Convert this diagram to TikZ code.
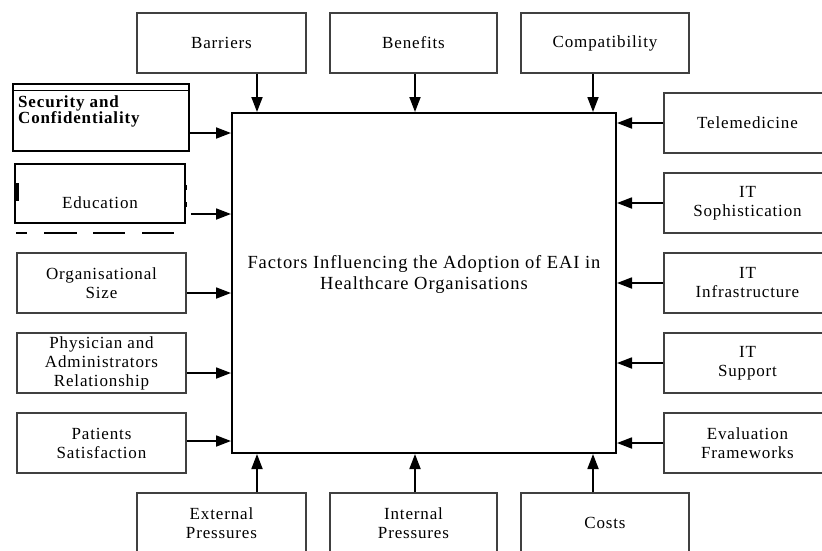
\documentclass[tikz,border=0pt]{standalone}
\usepackage{fontspec}
\setmainfont{Liberation Serif}[LetterSpace=5]
\usetikzlibrary{arrows.meta}
\begin{document}
\begin{tikzpicture}[x=1pt,y=-1pt,
  box/.style={draw=black!75, line width=1.4pt, rectangle, inner sep=0pt,
    align=center, font=\fontsize{17}{19}\selectfont, text=black},
  hbox/.style={box, minimum width=168pt, minimum height=60pt},
  lbox/.style={box, minimum width=169pt, minimum height=60pt},
  rbox/.style={box, minimum width=167pt, minimum height=60pt},
  arr/.style={line width=1.8pt, -{Triangle[length=15pt,width=11pt]}},
]
\useasboundingbox (0,0) rectangle (822,550);
\clip (0,0) rectangle (822,550);

% central box
\node[draw, line width=2pt, minimum width=384pt, minimum height=340pt, inner sep=0pt] (main) at (424,283) {};
\node[font=\fontsize{18.5}{21}\selectfont, align=center] (title) at (424,274)
  {Factors Influencing the Adoption of EAI in\\Healthcare Organisations};

% top row
\node[hbox, minimum width=169pt] (bar) at (221.5,43) {Barriers};
\node[hbox, minimum width=167pt] (ben) at (413.5,43) {Benefits};
\node[hbox] (com) at (605,43) {Compatibility};

% bottom row
\node[hbox, minimum width=169pt] (ext) at (221.5,523) {External\\Pressures};
\node[hbox, minimum width=167pt] (int) at (413.5,523) {Internal\\Pressures};
\node[hbox] (cos) at (605,523) {Costs};

% right column
\node[rbox] (tel) at (747.5,123) {Telemedicine};
\node[rbox] (soph) at (747.5,203) {IT\\Sophistication};
\node[rbox] (infra) at (747.5,283) {IT\\Infrastructure};
\node[rbox] (supp) at (747.5,363) {IT\\Support};
\node[rbox] (eval) at (747.5,443) {Evaluation\\Frameworks};

% left column
\node[draw, line width=2pt, minimum width=176pt, minimum height=67pt, inner sep=0pt] (sec) at (101,117.5) {};
\draw[line width=1pt] ([yshift=-7pt]sec.north west) -- ([yshift=-7pt]sec.north east);
\node[font=\bfseries\fontsize{17}{16.5}\selectfont, align=left, anchor=north west, inner sep=0pt] (sectext) at (18,95)
  {Security and\\Confidentiality};

\node[draw, line width=1.6pt, minimum width=170pt, minimum height=59pt, inner sep=0pt] (edu) at (100,193.5) {};
\node[font=\fontsize{17}{19}\selectfont] (edutext) at (100,203) {Education};
\fill (15,183) rectangle (18.5,201);
\draw[line width=1.5pt] (186,185) -- (186,190) (186,202) -- (186,207);
\draw[line width=2pt, dash pattern=on 11pt off 17pt on 33pt off 16pt on 32pt off 17pt on 32pt] (16,233) -- (174,233);

\node[lbox] (org) at (101.5,283) {Organisational\\Size};
\node[lbox] (phys) at (101.5,363) {Physician and\\Administrators\\Relationship};
\node[lbox] (pat) at (101.5,443) {Patients\\Satisfaction};

% connectors from the top
\draw[arr] ([xshift=35.5pt]bar.south) -- ([xshift=35.5pt]bar.south |- main.north);
\draw[arr] ([xshift=1.5pt]ben.south) -- ([xshift=1.5pt]ben.south |- main.north);
\draw[arr] ([xshift=-12pt]com.south) -- ([xshift=-12pt]com.south |- main.north);

% connectors from the bottom
\draw[arr] ([xshift=35.5pt]ext.north) -- ([xshift=35.5pt]ext.north |- main.south);
\draw[arr] ([xshift=1.5pt]int.north) -- ([xshift=1.5pt]int.north |- main.south);
\draw[arr] ([xshift=-12pt]cos.north) -- ([xshift=-12pt]cos.north |- main.south);

% connectors from the right
\foreach \n in {tel,soph,infra,supp,eval}
  \draw[arr] (\n.west) -- (\n.west -| main.east);

% connectors from the left
\draw[arr] ([yshift=-15.5pt]sec.east) -- ([yshift=-15.5pt]sec.east -| main.west);
\draw[arr] ([shift={(5pt,-20.5pt)}]edu.east) -- ([yshift=-20.5pt]edu.east -| main.west);
\draw[arr] ([yshift=-10pt]org.east) -- ([yshift=-10pt]org.east -| main.west);
\draw[arr] ([yshift=-10pt]phys.east) -- ([yshift=-10pt]phys.east -| main.west);
\draw[arr] ([yshift=2pt]pat.east) -- ([yshift=2pt]pat.east -| main.west);
\end{tikzpicture}
\end{document}
